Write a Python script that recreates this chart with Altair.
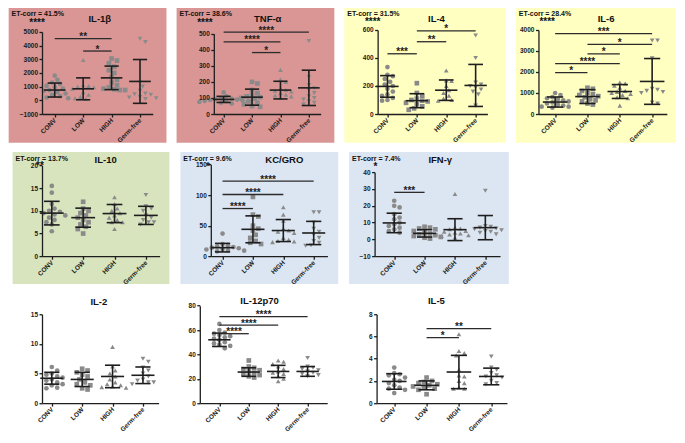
import altair as alt
import pandas as pd

GROUPS = ["CONV", "LOW", "HIGH", "Germ-free"]
SHAPES = ["circle", "square", "triangle-up", "triangle-down"]
SHAPES_IL1B = ["circle", "triangle-up", "square", "triangle-down"]

# ---------------- data ----------------
IL1B_CONV = [1800, 1500, 1300, 1200, 1050, 950, 850, 750, 700, 600, 500, 400, 300, 200, 150]
IL1B_LOW = [2950, 1100, 1050, 1000, 950, 850, 600, 400, 250, 150, 100]
IL1B_HIGH = [3050, 2900, 2700, 2450, 2200, 2000, 1700, 1500, 1300, 1100, 950, 850, 800, 750, 750]
IL1B_GF = [4500, 4250, 1300, 1000, 700, 500, 450, 400, 250, 200, 150, 100]
IL1B_MEAN = [750, 840, 1640, 1380]
IL1B_SD = [510, 800, 860, 1600]
IL1B_BR = [(0, 2, 4500, "**"), (1, 2, 3600, "*")]

TNF_CONV = [135, 110, 100, 95, 92, 90, 88, 85, 82, 80, 78, 75, 70, 65]
TNF_LOW = [200, 190, 150, 130, 120, 110, 105, 100, 95, 80, 70, 60, 50, 45]
TNF_HIGH = [275, 215, 200, 160, 150, 145, 140, 130, 120, 115, 110, 100]
TNF_GF = [455, 230, 180, 160, 150, 130, 110, 100, 90, 80, 70, 60]
TNF_MEAN = [91, 105, 149, 163]
TNF_SD = [19, 50, 55, 110]
TNF_BR = [(0, 3, 510, "****"), (0, 2, 450, "****"), (1, 2, 383, "*")]

IL4_CONV = [335, 280, 270, 250, 230, 210, 200, 180, 160, 140, 130, 115, 100, 95]
IL4_LOW = [220, 150, 130, 110, 100, 95, 90, 80, 70, 55, 40, 30]
IL4_HIGH = [310, 240, 235, 200, 170, 150, 130, 110, 100, 95]
IL4_GF = [560, 400, 225, 210, 200, 190, 175, 160, 140, 60]
IL4_MEAN = [197, 95, 170, 204]
IL4_SD = [77, 50, 73, 150]
IL4_BR = [(0, 1, 430, "***"), (1, 2, 516, "**"), (1, 3, 593, "*")]

IL6_CONV = [1000, 900, 800, 750, 700, 650, 600, 550, 500, 450, 400, 350, 350, 300]
IL6_LOW = [1250, 1200, 1100, 1000, 950, 900, 850, 800, 700, 650, 600, 500, 450]
IL6_HIGH = [1500, 1450, 1350, 1250, 1100, 1050, 1000, 950, 900, 800, 750, 400]
IL6_GF = [3500, 3500, 2650, 1200, 1150, 1100, 1050, 1000, 550, 500]
IL6_MEAN = [570, 830, 1070, 1550]
IL6_SD = [240, 330, 330, 1090]
IL6_BR = [(0, 3, 3830, "***"), (1, 3, 3310, "*"), (1, 2, 2860, "*"), (0, 2, 2400, "****"), (0, 1, 1970, "*")]

IL10_CONV = [15.5, 14, 11.5, 10.5, 10, 9.8, 9.5, 9.2, 9, 8.5, 8, 7.5, 7, 5.5]
IL10_LOW = [12, 10.5, 10, 9.5, 9, 8.5, 8, 7.5, 7, 6.5, 6, 5]
IL10_HIGH = [13, 11.5, 10.5, 10, 9.5, 9, 8.5, 8, 7.5, 7.5, 6]
IL10_GF = [13.5, 11, 10.5, 10, 9, 8.5, 8, 7.5, 7.5, 7]
IL10_MEAN = [9.5, 8.5, 9.4, 9.0]
IL10_SD = [2.6, 2.1, 2.0, 2.0]
IL10_BR = []

KC_CONV = [37, 20, 18, 16, 15, 14, 13, 12, 11, 10, 9, 8]
KC_LOW = [97, 68, 65, 50, 45, 42, 35, 30, 25, 22, 20]
KC_HIGH = [80, 68, 58, 45, 42, 40, 38, 30, 27, 25, 24, 23]
KC_GF = [72, 72, 55, 45, 40, 35, 30, 25, 22, 18, 17]
KC_MEAN = [14, 44, 42, 38]
KC_SD = [7, 22, 18, 19]
KC_BR = [(0, 3, 123, "****"), (0, 2, 101, "****"), (0, 1, 78, "****")]

IFN_CONV = [23, 20, 19, 15, 13, 12, 10, 9, 8, 7, 6, 5, 4]
IFN_LOW = [7.5, 7, 6.5, 6, 5, 4, 3.5, 3, 2.5, 2, 1.5, 1, 0.5]
IFN_HIGH = [27, 7, 6.5, 6, 5, 4.5, 4, 3.5, 3, 2.5, 2, 1]
IFN_GF = [29, 8, 7.5, 7, 6.5, 6, 5.5, 5, 4.5, 4, 3]
IFN_MEAN = [9.8, 3.6, 5.8, 7.0]
IFN_SD = [5.8, 2.2, 6.5, 7.2]
IFN_BR = [(0, 1, 28, "***")]

IL2_CONV = [6.1, 5.5, 5, 4.8, 4.5, 4.3, 4, 3.8, 3.5, 3.2, 3, 2.6, 2.5]
IL2_LOW = [5.8, 5.5, 5.2, 4.8, 4.5, 4, 3.5, 3.2, 3, 2.5, 2.3]
IL2_HIGH = [9.5, 6.2, 5.5, 5, 4.5, 4, 3.5, 3.2, 3, 2.8, 2.7, 2.6]
IL2_GF = [7.5, 7, 6, 5.5, 5, 4.5, 4, 3.8, 3.5, 3.5, 3.2]
IL2_MEAN = [4.2, 4.0, 4.5, 4.7]
IL2_SD = [1.0, 1.2, 1.9, 1.4]
IL2_BR = []

IL12_CONV = [65, 60, 58, 57, 56, 55, 54, 53, 52, 50, 49, 48, 47, 45]
IL12_LOW = [35, 30, 29, 28, 27, 26, 25, 24, 23, 22, 21]
IL12_HIGH = [35, 34, 32, 30, 28, 26, 25, 24, 22, 20, 18]
IL12_GF = [37, 30, 29, 28, 27, 26, 25, 24, 23, 22]
IL12_MEAN = [52, 25.5, 26, 26]
IL12_SD = [5.5, 3.5, 5, 4]
IL12_BR = [(0, 3, 71, "****"), (0, 2, 64, "****"), (0, 1, 57, "****")]

IL5_CONV = [3.2, 2.7, 2.6, 2.5, 2.3, 2.1, 2, 1.8, 1.6, 1.4, 1.3, 1.2, 0.9]
IL5_LOW = [2.3, 2.0, 1.9, 1.8, 1.7, 1.6, 1.5, 1.4, 1.3, 1.2, 0.8]
IL5_HIGH = [6.2, 4.7, 4.5, 4.3, 3, 2.5, 2.4, 2.0, 1.8, 1.4, 1.3, 1.3]
IL5_GF = [4.2, 3.2, 3.0, 2.7, 2.5, 2.4, 2.3, 2.0, 1.8, 1.7]
IL5_MEAN = [1.95, 1.6, 2.8, 2.4]
IL5_SD = [0.7, 0.4, 1.5, 0.75]
IL5_BR = [(1, 3, 6.7, "**"), (1, 2, 5.9, "*")]

RED, YEL, GRN, BLU, WHT = "#d99694", "#ffffc2", "#d7e4bd", "#dce6f2", "#ffffff"

PANELS = [
    [
        dict(title="IL-1β", et="ET-corr = 41.5%", es="****", bg=RED, shapes=SHAPES_IL1B,
             pts=[IL1B_CONV, IL1B_LOW, IL1B_HIGH, IL1B_GF], mean=IL1B_MEAN, sd=IL1B_SD,
             ydom=[-1000, 5000], yt=[-1000, 0, 1000, 2000, 3000, 4000, 5000], br=IL1B_BR,
             g=dict(bw=161, L=34, H=86, a=13, s=29, b=13, tx=93, ty=11, ey=6, sx=21, sy=19)),
        dict(title="TNF-α", et="ET-corr = 38.6%", es="****", bg=RED, shapes=SHAPES,
             pts=[TNF_CONV, TNF_LOW, TNF_HIGH, TNF_GF], mean=TNF_MEAN, sd=TNF_SD,
             ydom=[0, 500], yt=[0, 100, 200, 300, 400, 500], br=TNF_BR,
             g=dict(bw=161, L=38, H=84, a=10, s=29, b=12, tx=93, ty=11, ey=6, sx=21, sy=19)),
        dict(title="IL-4", et="ET-corr = 31.5%", es="****", bg=YEL, shapes=SHAPES,
             pts=[IL4_CONV, IL4_LOW, IL4_HIGH, IL4_GF], mean=IL4_MEAN, sd=IL4_SD,
             ydom=[0, 600], yt=[0, 200, 400, 600], br=IL4_BR,
             g=dict(bw=165, L=34, H=88, a=10, s=30, b=12, tx=94, ty=11, ey=6, sx=21, sy=18)),
        dict(title="IL-6", et="ET-corr = 28.4%", es="****", bg=YEL, shapes=SHAPES,
             pts=[IL6_CONV, IL6_LOW, IL6_HIGH, IL6_GF], mean=IL6_MEAN, sd=IL6_SD,
             ydom=[0, 4000], yt=[0, 1000, 2000, 3000, 4000], br=IL6_BR,
             g=dict(bw=163, L=23, H=88, a=17, s=33, b=15, tx=92, ty=11, ey=6, sx=24, sy=18)),
    ],
    [
        dict(title="IL-10", et="ET-corr = 13.7%", es="**", bg=GRN, shapes=SHAPES,
             pts=[IL10_CONV, IL10_LOW, IL10_HIGH, IL10_GF], mean=IL10_MEAN, sd=IL10_SD,
             ydom=[0, 20], yt=[0, 5, 10, 15, 20], br=IL10_BR,
             g=dict(bw=160, L=30, H=95, a=10, s=32, b=14, tx=95, ty=8, ey=7, sx=24, sy=18)),
        dict(title="KC/GRO", et="ET-corr = 9.6%", es="*", bg=BLU, shapes=SHAPES,
             pts=[KC_CONV, KC_LOW, KC_HIGH, KC_GF], mean=KC_MEAN, sd=KC_SD,
             ydom=[0, 150], yt=[0, 50, 100, 150], br=KC_BR,
             g=dict(bw=161, L=31, H=96, a=12, s=31, b=14, tx=106, ty=8, ey=7, sx=26, sy=19)),
        dict(title="IFN-γ", et="ET-corr = 7.4%", es="*", bg=BLU, shapes=SHAPES,
             pts=[IFN_CONV, IFN_LOW, IFN_HIGH, IFN_GF], mean=IFN_MEAN, sd=IFN_SD,
             ydom=[-10, 40], yt=[-10, 0, 10, 20, 30, 40], br=IFN_BR,
             g=dict(bw=163, L=26, H=88, a=20, s=31, b=15, tx=93, ty=8, ey=7, sx=25, sy=19)),
    ],
    [
        dict(title="IL-2", et="", es="", bg=WHT, shapes=SHAPES,
             pts=[IL2_CONV, IL2_LOW, IL2_HIGH, IL2_GF], mean=IL2_MEAN, sd=IL2_SD,
             ydom=[0, 15], yt=[0, 5, 10, 15], br=IL2_BR,
             g=dict(bw=160, L=30, H=93, a=10, s=31, b=16, tx=88, ty=8, ey=8, sx=24, sy=20)),
        dict(title="IL-12p70", et="", es="", bg=WHT, shapes=SHAPES,
             pts=[IL12_CONV, IL12_LOW, IL12_HIGH, IL12_GF], mean=IL12_MEAN, sd=IL12_SD,
             ydom=[0, 80], yt=[0, 20, 40, 60, 80], br=IL12_BR,
             g=dict(bw=161, L=20, H=102, a=20, s=30, b=20, tx=81, ty=7, ey=8, sx=24, sy=20)),
        dict(title="IL-5", et="", es="", bg=WHT, shapes=SHAPES,
             pts=[IL5_CONV, IL5_LOW, IL5_HIGH, IL5_GF], mean=IL5_MEAN, sd=IL5_SD,
             ydom=[0, 8], yt=[0, 2, 4, 6, 8], br=IL5_BR,
             g=dict(bw=163, L=28, H=93, a=18, s=33, b=16, tx=89, ty=7, ey=8, sx=24, sy=20)),
    ],
]
ROW_H = [141, 138, 143]      # panel (background) heights per row
ROW_BOT = [111, 109, 114]    # x-axis position below the panel top, per row
SX, SY = 0.98, 0.955
FONT = "Liberation Sans"
INK = "#1e1e1e"


def swarm(vals, lo, hi, H, r=4.8, step=2.7):
    """horizontal spreading (pixels) so that points do not overlap"""
    order = sorted(range(len(vals)), key=lambda k: -vals[k])
    placed, offs = [], [0.0] * len(vals)
    cands = [0.0]
    for m in range(1, 12):
        cands += [m * step, -m * step]
    for k in order:
        y = (vals[k] - lo) / (hi - lo) * H
        for c in cands:
            if all((c - px) ** 2 + (y - py) ** 2 >= r * r for px, py in placed):
                break
        offs[k] = c
        placed.append((c, y))
    return offs


def panel(p, row_h, row_bot):
    g = p["g"]
    L, H = g["L"] * SX, g["H"] * SY
    s, a, b = g["s"] * SX, g["a"] * SX, g["b"] * SX
    W = a + 3 * s + b
    BW, BH = g["bw"] * SX, row_h * SY
    HV = row_bot * SY           # view height: from panel top to the x axis
    lo, hi = p["ydom"]
    xs = alt.Scale(domain=[-a / s, 3 + b / s], nice=False, zero=False)
    ys = alt.Scale(domain=[lo, hi], range=[HV, HV - H], nice=False, zero=False)
    xa = alt.Axis(values=[0, 1, 2, 3], labelExpr=f"{GROUPS}[datum.value]", title=None,
                  grid=False, labelAngle=-45, labelAlign="right", labelBaseline="middle",
                  labelPadding=2, labelOverlap=False, labelBound=False, zindex=1)
    ya = alt.Axis(values=p["yt"], format="d", title=None, grid=False, labelPadding=1.5,
                  labelOverlap=False, zindex=1)

    def X(f):
        return alt.X(f, type="quantitative", scale=xs, axis=xa)

    def Y(f):
        return alt.Y(f, type="quantitative", scale=ys, axis=ya)

    rows = []
    for i, vals in enumerate(p["pts"]):
        offs = swarm(vals, lo, hi, H)
        for v, o in zip(vals, offs):
            rows.append(dict(grp=GROUPS[i], shp=p["shapes"][i], v=v, xp=i + o / s))
    pts = pd.DataFrame(rows)

    eb = pd.DataFrame(dict(
        xc=[0, 1, 2, 3], mean=p["mean"],
        lo=[m - d for m, d in zip(p["mean"], p["sd"])],
        hi=[m + d for m, d in zip(p["mean"], p["sd"])],
        ml=[i - 0.38 for i in range(4)], mr=[i + 0.38 for i in range(4)],
        cl=[i - 0.25 for i in range(4)], cr=[i + 0.25 for i in range(4)],
    ))
    one = pd.DataFrame({"k": [0]})

    bg = alt.Chart(one).mark_rect(fill=p["bg"]).encode(
        x=alt.value(-L), x2=alt.value(BW - L), y=alt.value(0), y2=alt.value(BH))

    dots = alt.Chart(pts).mark_point(filled=True, size=22, opacity=1, color="#8a8a8a").encode(
        x=X("xp"), y=Y("v"), shape=alt.Shape("shp:N", scale=None, legend=None))

    base = alt.Chart(eb)
    rk = dict(color=INK, strokeWidth=1.6)
    whisk = base.mark_rule(**rk).encode(x=X("xc"), y=Y("lo"), y2="hi")
    meanl = base.mark_rule(**rk).encode(x=X("ml"), x2="mr", y=Y("mean"))
    capl = base.mark_rule(**rk).encode(x=X("cl"), x2="cr", y=Y("lo"))
    caph = base.mark_rule(**rk).encode(x=X("cl"), x2="cr", y=Y("hi"))
    layers = [bg, dots, whisk, meanl, capl, caph]

    if p["br"]:
        br = pd.DataFrame(p["br"], columns=["i", "j", "y", "st"])
        br["m"] = (br["i"] + br["j"]) / 2
        bc = alt.Chart(br)
        layers.append(bc.mark_rule(color="#2b2b2b", strokeWidth=1.3).encode(x=X("i"), x2="j", y=Y("y")))
        layers.append(bc.mark_text(font=FONT, fontSize=10, fontWeight="bold", color="#222",
                                   baseline="alphabetic", dy=1.5).encode(x=X("m"), y=Y("y"), text="st"))

    layers.append(alt.Chart(one).mark_text(font=FONT, fontSize=9.5, fontWeight="bold", color="#111",
                                           baseline="middle", align="center").encode(
        x=alt.value(g["tx"] * SX - L), y=alt.value(g["ty"] * SY), text=alt.value(p["title"])))
    if p["et"]:
        layers.append(alt.Chart(one).mark_text(font=FONT, fontSize=7, fontWeight="bold", color="#111",
                                               baseline="middle", align="left").encode(
            x=alt.value(3 * SX - L), y=alt.value(g["ey"] * SY), text=alt.value(p["et"])))
        layers.append(alt.Chart(one).mark_text(font=FONT, fontSize=10, fontWeight="bold", color="#111",
                                               baseline="alphabetic", align="left").encode(
            x=alt.value(g["sx"] * SX - L), y=alt.value(g["sy"] * SY), text=alt.value(p["es"])))

    return alt.layer(*layers).properties(width=W, height=HV)


rows = []
for r, (row, rh, rb) in enumerate(zip(PANELS, ROW_H, ROW_BOT)):
    sp = 9 if r == 0 else 10
    rows.append(alt.hconcat(*[panel(p, rh, rb) for p in row], spacing=sp * SX))

chart = alt.vconcat(*rows, spacing=8.5 * SY).properties(
    padding=0, background="white"
).configure_view(
    stroke=None
).configure_axis(
    domainColor=INK, domainWidth=1.3, tickColor=INK, tickWidth=1.3, tickSize=3,
    labelFont=FONT, labelFontSize=6.5, labelFontWeight="bold", labelColor="#1a1a1a"
)

chart.save("out.html", embed_options={"renderer": "svg", "actions": False})
